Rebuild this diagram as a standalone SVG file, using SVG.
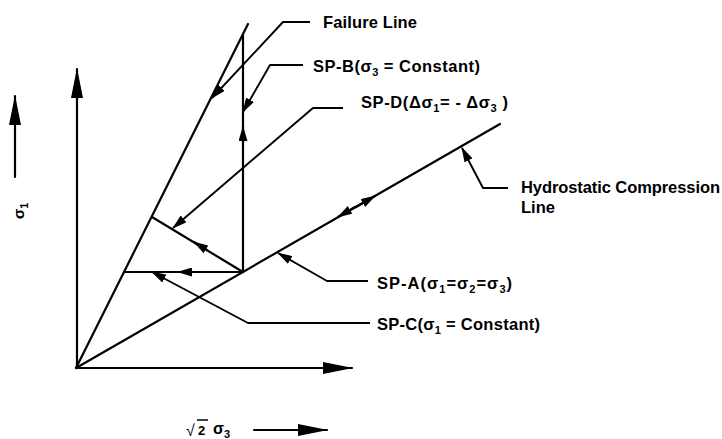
<svg xmlns="http://www.w3.org/2000/svg" width="722" height="439" viewBox="0 0 722 439">
<style>
text{font-family:"Liberation Sans",Arial,Helvetica,sans-serif;font-weight:bold;font-size:16.5px;fill:#000}
.sub{font-size:11px}
.ln{stroke:#000;stroke-width:2.2;fill:none;stroke-linecap:round}
.ld{stroke:#000;stroke-width:1.9;fill:none;stroke-linejoin:round}
</style>
<defs>
<marker id="big" markerUnits="userSpaceOnUse" markerWidth="30" markerHeight="12" refX="29" refY="6" orient="auto"><path d="M0,0 L30,6 L0,12 z" fill="#000"/></marker>
<marker id="sm" markerUnits="userSpaceOnUse" markerWidth="15" markerHeight="9" refX="14" refY="4.5" orient="auto"><path d="M0,0 L15,4.5 L0,9 z" fill="#000"/></marker>
</defs>
<rect width="722" height="439" fill="#fff"/>
<g id="axes">
<line class="ln" x1="77" y1="368" x2="77" y2="69" marker-end="url(#big)"/>
<line class="ln" x1="76" y1="368" x2="352" y2="368" marker-end="url(#big)"/>
<line class="ln" x1="15" y1="177" x2="15" y2="96" marker-end="url(#big)"/>
<line class="ln" x1="254" y1="430" x2="327" y2="430" marker-end="url(#big)"/>
</g>
<g id="axis-labels">
<text transform="translate(24,219) rotate(-90)" style="font-size:15px">σ<tspan class="sub" dy="4">1</tspan></text>
<text x="186" y="436" style="font-weight:normal;font-size:16px">√</text>
<text x="198" y="435" style="font-size:13px">2</text>
<line x1="197" y1="420" x2="208" y2="420" stroke="#000" stroke-width="1.5"/>
<text x="213" y="434" style="font-size:16px">σ<tspan class="sub" dy="4">3</tspan></text>
</g>
<g id="paths">
<line id="failure-line" class="ln" x1="76" y1="368" x2="248" y2="24"/>
<line id="hydrostatic-line" class="ln" x1="76" y1="368" x2="500" y2="124"/>
<line id="sp-b-line" class="ln" x1="243" y1="272" x2="243" y2="35"/>
<line id="sp-c-line" class="ln" x1="243" y1="272" x2="124" y2="272"/>
<line id="sp-d-line" class="ln" x1="243" y1="272" x2="152" y2="217"/>
<line class="ln" x1="243" y1="142" x2="243" y2="127" marker-end="url(#sm)"/>
<line class="ln" x1="195" y1="272" x2="178" y2="272" marker-end="url(#sm)"/>
<line class="ln" x1="207" y1="250" x2="194" y2="242" marker-end="url(#sm)"/>
<line class="ln" x1="355" y1="207" x2="338" y2="217" marker-end="url(#sm)"/>
<line class="ln" x1="356" y1="207" x2="375" y2="196" marker-end="url(#sm)"/>
</g>
<g id="connectors">
<polyline class="ld" points="310,22 283,22 212,98" marker-end="url(#sm)"/>
<polyline class="ld" points="303,65 270,65 243,112" marker-end="url(#sm)"/>
<polyline class="ld" points="343,108 313,108 173,228" marker-end="url(#sm)"/>
<polyline class="ld" points="508,188 483,188 462,148" marker-end="url(#sm)"/>
<polyline class="ld" points="368,281 327,281 278,253" marker-end="url(#sm)"/>
<polyline class="ld" points="370,323 248,323 152,272" marker-end="url(#sm)"/>
</g>
<g id="label-failure"><text x="323" y="28" textLength="94">Failure Line</text></g>
<g id="label-sp-b"><text x="313" y="72" textLength="167">SP-B(σ<tspan class="sub" dy="4">3</tspan><tspan dy="-4"> = Constant)</tspan></text></g>
<g id="label-sp-d"><text x="361" y="108" textLength="147">SP-D(Δσ<tspan class="sub" dy="4">1</tspan><tspan dy="-4">= - Δσ</tspan><tspan class="sub" dy="4">3</tspan><tspan dy="-4"> )</tspan></text></g>
<g id="label-hydrostatic"><text x="521" y="193" textLength="199">Hydrostatic Compression</text><text x="521" y="213" textLength="34">Line</text></g>
<g id="label-sp-a"><text x="377" y="289" textLength="135">SP-A(σ<tspan class="sub" dy="4">1</tspan><tspan dy="-4">=σ</tspan><tspan class="sub" dy="4">2</tspan><tspan dy="-4">=σ</tspan><tspan class="sub" dy="4">3</tspan><tspan dy="-4">)</tspan></text></g>
<g id="label-sp-c"><text x="377" y="330" textLength="163">SP-C(σ<tspan class="sub" dy="4">1</tspan><tspan dy="-4"> = Constant)</tspan></text></g>
</svg>
